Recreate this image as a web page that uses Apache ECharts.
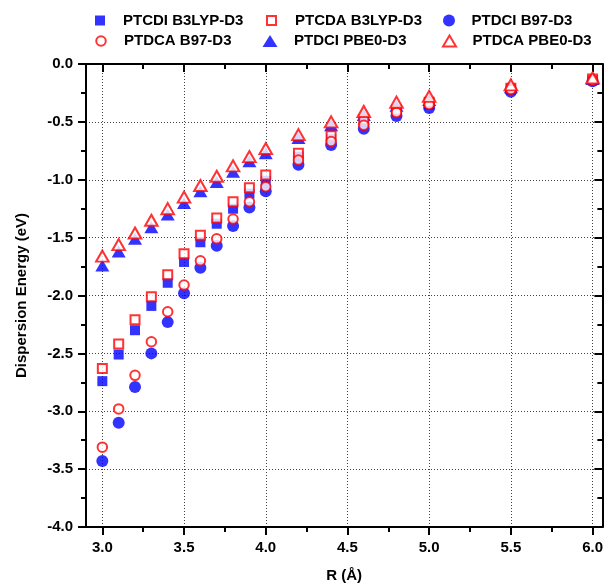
<!DOCTYPE html>
<html>
<head>
<meta charset="utf-8">
<script src="https://cdn.jsdelivr.net/npm/echarts@6/dist/echarts.min.js"></script>
<style>
html,body{margin:0;padding:0;background:#fff;}
#chart{width:606px;height:588px;}
</style>
</head>
<body>
<div id="chart"></div>
<script>
// ---- data ----
const rValues = [3.0, 3.1, 3.2, 3.3, 3.4, 3.5, 3.6, 3.7, 3.8, 3.9, 4.0, 4.2, 4.4, 4.6, 4.8, 5.0, 5.5, 6.0];
const ptcdiB3lyp = [-2.74, -2.51, -2.30, -2.09, -1.89, -1.71, -1.54, -1.38, -1.25, -1.12, -1.01, -0.80, -0.65, -0.50, -0.41, -0.35, -0.22, -0.14];
const ptcdaB3lyp = [-2.63, -2.42, -2.21, -2.01, -1.82, -1.64, -1.48, -1.33, -1.19, -1.07, -0.96, -0.77, -0.62, -0.48, -0.40, -0.33, -0.21, -0.13];
const ptdciB97 = [-3.43, -3.10, -2.79, -2.50, -2.23, -1.98, -1.76, -1.57, -1.40, -1.24, -1.10, -0.87, -0.70, -0.56, -0.45, -0.38, -0.24, -0.15];
const ptdcaB97 = [-3.31, -2.98, -2.69, -2.40, -2.14, -1.91, -1.70, -1.51, -1.34, -1.19, -1.06, -0.83, -0.67, -0.53, -0.42, -0.35, -0.22, -0.14];
const ptdciPbe0 = [-1.74, -1.62, -1.51, -1.41, -1.30, -1.20, -1.10, -1.02, -0.93, -0.84, -0.77, -0.64, -0.53, -0.44, -0.36, -0.31, -0.20, -0.13];
const ptdcaPbe0 = [-1.66, -1.56, -1.46, -1.35, -1.25, -1.15, -1.05, -0.97, -0.88, -0.80, -0.73, -0.61, -0.50, -0.41, -0.33, -0.28, -0.18, -0.12];

const seriesNames = ['PTCDI B3LYP-D3', 'PTCDA B3LYP-D3', 'PTDCI B97-D3', 'PTDCA B97-D3', 'PTDCI PBE0-D3', 'PTDCA PBE0-D3'];
const xMajorTicks = [3.0, 3.5, 4.0, 4.5, 5.0, 5.5, 6.0];
const xMinorTicks = [3.25, 3.75, 4.25, 4.75, 5.25, 5.75];
const xAxisTitle = 'R (Å)';
const yAxisTitle = 'Dispersion Energy (eV)';

// ---- chart ----
const BLUE = '#0000FF', RED = '#FF0000';
const FONT = 'Liberation Sans, Arial, sans-serif';
const pair = arr => rValues.map((x, i) => [x, arr[i]]);

const styles = [
  { data: ptcdiB3lyp, symbol: 'rect', size: 10, filled: true },
  { data: ptcdaB3lyp, symbol: 'rect', size: 9, filled: false },
  { data: ptdciB97, symbol: 'circle', size: 12, filled: true },
  { data: ptdcaB97, symbol: 'circle', size: 9.5, filled: false },
  { data: ptdciPbe0, symbol: 'triangle', size: [14, 12], filled: true },
  { data: ptdcaPbe0, symbol: 'triangle', size: [12.5, 11], filled: false }
];

const series = styles.map((s, i) => ({
  name: seriesNames[i],
  type: 'scatter',
  xAxisIndex: 0,
  yAxisIndex: 0,
  symbol: s.symbol,
  symbolSize: s.size,
  z: s.filled ? 2 : 3,
  itemStyle: s.filled
    ? { color: BLUE, borderWidth: 0 }
    : { color: '#FFFFFF', borderColor: RED, borderWidth: 2 },
  data: pair(s.data)
}));

// legend layout: icon centre x, icon size, text start x, row centre y
const legendLayout = [
  { cx: 100, w: 10, h: 10, tx: 123, cy: 20.5 },
  { cx: 270.5, w: 9, h: 9, tx: 294, cy: 20.5 },
  { cx: 449, w: 12, h: 12, tx: 471.5, cy: 20.5 },
  { cx: 100, w: 9.5, h: 9.5, tx: 123, cy: 41 },
  { cx: 270, w: 15, h: 12, tx: 294, cy: 41 },
  { cx: 448.5, w: 13, h: 11, tx: 471.5, cy: 41 }
];
const legends = legendLayout.map((p, i) => {
  const left = p.cx - p.w / 2;
  return {
    data: [seriesNames[i]],
    left: left,
    top: p.cy - 8,
    itemWidth: p.w,
    itemHeight: p.h,
    padding: 0,
    textStyle: {
      fontFamily: FONT, fontWeight: 'bold', fontSize: 15, color: '#000', lineHeight: 16,
      padding: [0, 0, 0, p.tx - left - p.w - 5]
    }
  };
});

const axisLineStyle = { color: '#000', width: 2 };
const labelStyle = { fontFamily: FONT, fontWeight: 'bold', fontSize: 15, color: '#000' };
const gridLine = { show: true, lineStyle: { type: [1, 2], color: '#444', width: 1 } };
const XMIN = 2.9, XMAX = 6.06;

const option = {
  animation: false,
  backgroundColor: '#fff',
  legend: legends,
  grid: { left: 86, right: 3, top: 64, bottom: 61, containLabel: false },
  xAxis: [
    {
      type: 'value', position: 'bottom', min: XMIN, max: XMAX,
      name: xAxisTitle, nameLocation: 'middle', nameGap: 41,
      nameTextStyle: labelStyle,
      axisLine: { show: true, onZero: false, lineStyle: axisLineStyle },
      axisTick: { show: true, inside: false, length: 8, customValues: xMajorTicks, lineStyle: { width: 2, color: '#000' } },
      axisLabel: { customValues: xMajorTicks, margin: 13, formatter: v => v.toFixed(1), ...labelStyle },
      splitLine: gridLine
    },
    {
      type: 'value', position: 'bottom', min: XMIN, max: XMAX,
      axisLine: { show: false, onZero: false },
      axisTick: { show: true, inside: false, length: 5, customValues: xMinorTicks, lineStyle: { width: 2, color: '#000' } },
      axisLabel: { show: false },
      splitLine: { show: false }
    },
    {
      type: 'value', position: 'top', min: XMIN, max: XMAX,
      axisLine: { show: true, onZero: false, lineStyle: axisLineStyle },
      axisTick: { show: true, inside: true, length: 8, customValues: xMajorTicks, lineStyle: { width: 2, color: '#000' } },
      axisLabel: { show: false },
      splitLine: { show: false }
    },
    {
      type: 'value', position: 'top', min: XMIN, max: XMAX,
      axisLine: { show: false, onZero: false },
      axisTick: { show: true, inside: true, length: 5, customValues: xMinorTicks, lineStyle: { width: 2, color: '#000' } },
      axisLabel: { show: false },
      splitLine: { show: false }
    }
  ],
  yAxis: [
    {
      type: 'value', position: 'left', min: -4, max: 0, interval: 0.5,
      name: yAxisTitle, nameLocation: 'middle', nameGap: 57,
      nameTextStyle: labelStyle,
      axisLine: { show: true, onZero: false, lineStyle: axisLineStyle },
      axisTick: { show: true, inside: false, length: 8, lineStyle: { width: 2, color: '#000' } },
      minorTick: { show: true, splitNumber: 2, length: 5, lineStyle: { width: 2, color: '#000' } },
      axisLabel: { margin: 13, formatter: v => v.toFixed(1), ...labelStyle },
      splitLine: gridLine
    },
    {
      type: 'value', position: 'right', min: -4, max: 0, interval: 0.5,
      axisLine: { show: true, onZero: false, lineStyle: axisLineStyle },
      axisTick: { show: true, inside: true, length: 8, lineStyle: { width: 2, color: '#000' } },
      minorTick: { show: true, splitNumber: 2, length: 5, lineStyle: { width: 2, color: '#000' } },
      axisLabel: { show: false },
      splitLine: { show: false }
    }
  ],
  series: series
};

const chart = echarts.init(document.getElementById('chart'), null, { renderer: 'canvas' });
chart.setOption(option);
</script>
</body>
</html>
